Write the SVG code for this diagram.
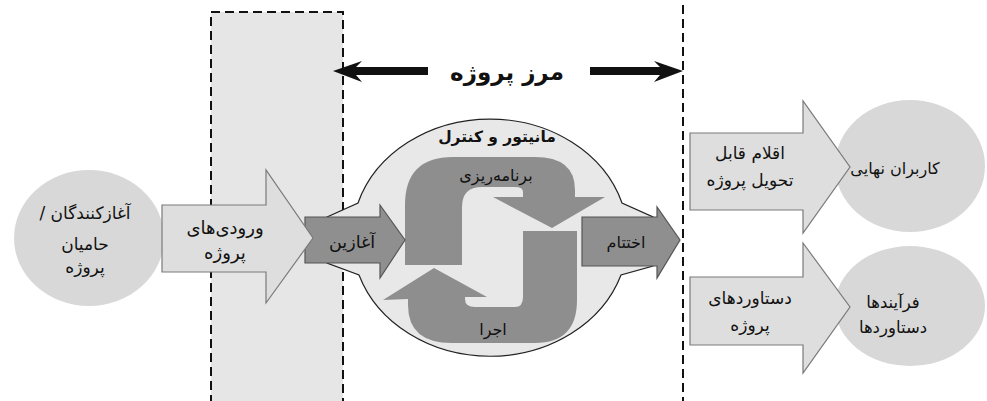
<svg xmlns="http://www.w3.org/2000/svg" width="987" height="401" viewBox="0 0 987 401">
<defs>
<style>
.t{font-family:"DejaVu Sans","Noto Sans",sans-serif;font-size:16px;fill:#111;text-anchor:middle;direction:rtl}
.b{font-weight:bold}
.ell{fill:#d8d8d8;stroke:none}
.light{fill:#dedede;stroke:#7a7a7a;stroke-width:1.2}
.dark{fill:#8f8f8f;stroke:#555;stroke-width:1.2}
.cyc{fill:#8e8e8e;stroke:none}
.dash{fill:none;stroke:#111;stroke-width:2;stroke-dasharray:9 5}
</style>
</defs>
<rect width="987" height="401" fill="#fff"/>
<g id="scope-box">
<rect x="211" y="12" width="132" height="400" fill="#e6e6e6" stroke="#111" stroke-width="2" stroke-dasharray="9 5"/>
</g>
<g id="process-cloud">
<path d="M327 217 L358 203 A138 118.5 0 0 1 622 203 L653 217 L653 266 L621 275 A138 118.5 0 0 1 359 275 L327 263 Z" fill="#e8e8e8" stroke="#222" stroke-width="1.2"/>
<text class="t b" x="497" y="142" style="font-size:15.5px">مانیتور و کنترل</text>
</g>
<g id="planning">
<path class="cyc" d="M405 265 L405 205 Q405 157 453 157 L535 157 Q575 157 575 190 L575 197 L605 197 L552 228 L493 197 L523 197 L523 192 Q523 187 515 187 L482 187 Q462 187 462 207 L462 265 Z"/>
<text class="t" x="496" y="181" style="font-size:16px">برنامه&#8204;ریزی</text>
</g>
<g id="execution">
<path class="cyc" d="M523 231 L577 231 L577 300 Q577 343 535 343 L452 343 Q408 343 408 305 L408 299 L383 300 L434 268 L487 297 L465 297 L465 299 Q465 307 475 307 L515 307 Q523 307 523 297 Z"/>
<text class="t" x="493" y="335" style="font-size:16px">اجرا</text>
</g>
<g id="initiating">
<path class="dark" d="M305 217 L380 217 L380 205 L405 240 L380 278 L380 263 L305 263 Z"/>
<text class="t" x="352" y="248" style="font-size:17.5px">آغازین</text>
</g>
<g id="closing">
<path class="dark" d="M582 217 L657 217 L657 207 L680 240 L657 278 L657 266 L582 266 Z"/>
<text class="t" x="626" y="248" style="font-size:16px">اختتام</text>
</g>
<g id="sponsors">
<ellipse class="ell" cx="89" cy="238" rx="75" ry="68"/>
<text class="t" x="85" y="219" style="font-size:17px">آغازکنندگان /</text>
<text class="t" x="85" y="250" style="font-size:17px">حامیان</text>
<text class="t" x="85" y="273" style="font-size:17px">پروژه</text>
</g>
<g id="inputs">
<path class="light" d="M162 205 L266 205 L266 170 L313 238 L266 303 L266 272 L162 272 Z"/>
<text class="t" x="225" y="234" style="font-size:18px">ورودی&#8204;های</text>
<text class="t" x="225" y="259" style="font-size:18px">پروژه</text>
</g>
<g id="boundary-line">
<line x1="683" y1="5" x2="683" y2="401" class="dash"/>
</g>
<g id="end-users">
<ellipse class="ell" cx="910" cy="166" rx="75" ry="66"/>
<text class="t" x="895" y="174" style="font-size:16px">کاربران نهایی</text>
</g>
<g id="deliverables">
<path class="light" d="M690 133 L803 133 L803 101 L850 167 L803 233 L803 210 L690 210 Z"/>
<text class="t" x="750" y="159" style="font-size:17px">اقلام قابل</text>
<text class="t" x="750" y="186" style="font-size:17px">تحویل پروژه</text>
</g>
<g id="processes">
<ellipse class="ell" cx="910" cy="306" rx="75" ry="60"/>
<text class="t" x="893" y="308" style="font-size:16.5px">فرآیندها</text>
<text class="t" x="893" y="333" style="font-size:16.5px">دستاوردها</text>
</g>
<g id="achievements">
<path class="light" d="M690 277 L803 277 L803 243 L850 307 L803 373 L803 345 L690 345 Z"/>
<text class="t" x="750" y="304" style="font-size:17px">دستاوردهای</text>
<text class="t" x="750" y="331" style="font-size:17px">پروژه</text>
</g>
<g id="connectors">
<path d="M333 71 L362 61 L356 67 L428 67 L428 75 L356 75 L362 82 Z" fill="#111"/>
<path d="M683 71 L654 61 L660 67 L590 67 L590 75 L660 75 L654 82 Z" fill="#111"/>
<text class="t b" x="507" y="80" style="font-size:23px">مرز پروژه</text>
</g>
</svg>
